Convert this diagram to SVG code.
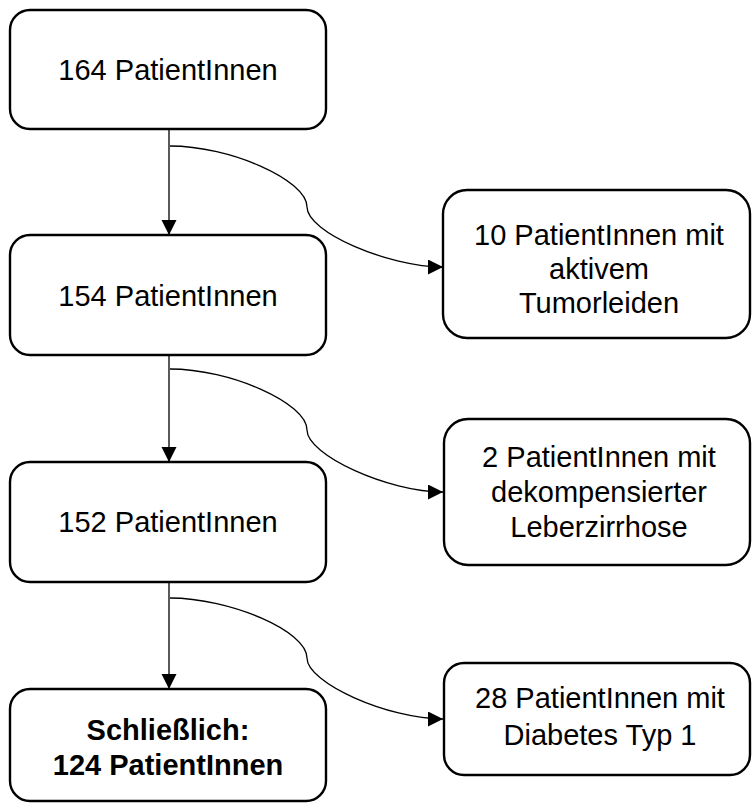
<svg xmlns="http://www.w3.org/2000/svg" width="752" height="803" viewBox="0 0 752 803">
<style>
.box{fill:#fff;stroke:#000;stroke-width:2.4}
.t{font-family:"Liberation Sans",Arial,sans-serif;font-size:29px;fill:#000;text-anchor:middle}
.b{font-weight:bold}
.c{fill:none;stroke:#000;stroke-width:1.3}
</style>
<defs>
<marker id="ah" markerUnits="userSpaceOnUse" markerWidth="16" markerHeight="16" viewBox="0 0 16 16" refX="15" refY="7.5" orient="auto">
<path d="M0,0 L15,7.5 L0,15 Z" fill="#000"/>
</marker>
</defs>
<rect width="752" height="803" fill="#fff"/>
<g id="connectors">
<path class="c" d="M169,129 L169,235" marker-end="url(#ah)"/>
<path class="c" d="M170,146 C230,146 307,180 307,207 C307,232 388,267 443,267" marker-end="url(#ah)"/>
<path class="c" d="M169,355 L169,462" marker-end="url(#ah)"/>
<path class="c" d="M170,369 C230,369 307,403 307,430 C307,455 388,492 443,492" marker-end="url(#ah)"/>
<path class="c" d="M169,582 L169,689" marker-end="url(#ah)"/>
<path class="c" d="M170,598 C230,598 307,631 307,658 C307,683 388,719 443,719" marker-end="url(#ah)"/>
</g>
<g id="n1">
<rect class="box" x="10" y="10" width="316" height="119" rx="20"/>
<text class="t" x="168" y="80">164 PatientInnen</text>
</g>
<g id="n2">
<rect class="box" x="10" y="235" width="316" height="120" rx="20"/>
<text class="t" x="168" y="306">154 PatientInnen</text>
</g>
<g id="n3">
<rect class="box" x="10" y="462" width="316" height="120" rx="20"/>
<text class="t" x="168" y="532">152 PatientInnen</text>
</g>
<g id="n4">
<rect class="box" x="10" y="689" width="316" height="112" rx="20"/>
<text class="t b" x="168" y="740">Schließlich:</text>
<text class="t b" x="168" y="775">124 PatientInnen</text>
</g>
<g id="r1">
<rect class="box" x="443" y="190" width="307" height="148" rx="24"/>
<text class="t" x="599" y="245">10 PatientInnen mit</text>
<text class="t" x="599" y="279">aktivem</text>
<text class="t" x="599" y="313">Tumorleiden</text>
</g>
<g id="r2">
<rect class="box" x="444" y="419" width="306" height="146" rx="24"/>
<text class="t" x="599" y="467">2 PatientInnen mit</text>
<text class="t" x="599" y="502">dekompensierter</text>
<text class="t" x="599" y="537">Leberzirrhose</text>
</g>
<g id="r3">
<rect class="box" x="444" y="663" width="306" height="112" rx="20"/>
<text class="t" x="600" y="708">28 PatientInnen mit</text>
<text class="t" x="600" y="745">Diabetes Typ 1</text>
</g>
</svg>
